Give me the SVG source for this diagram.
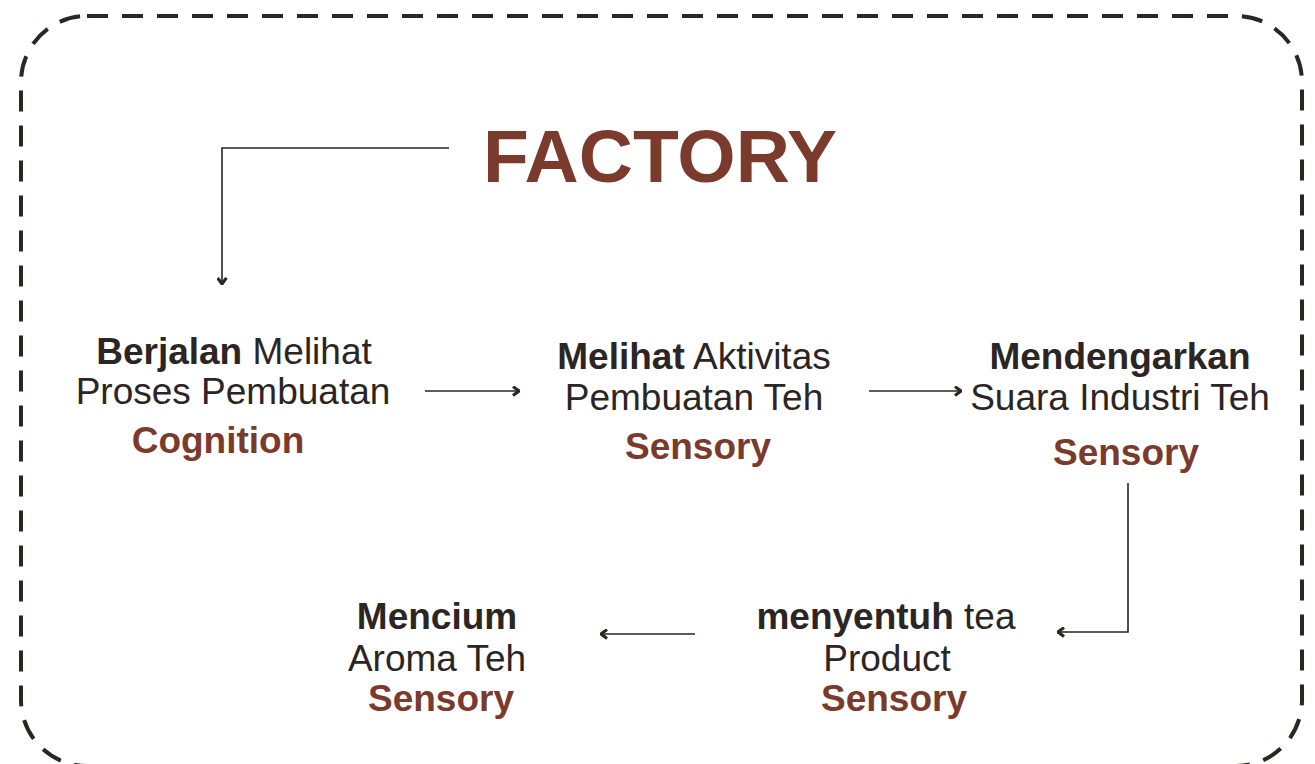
<svg xmlns="http://www.w3.org/2000/svg" width="1315" height="764" viewBox="0 0 1315 764">
<style>
.t{font-family:"Liberation Sans",Arial,sans-serif;font-size:37px;fill:#2b2523;text-anchor:middle}
.b{font-weight:bold}
.br{fill:#7a3a2c;font-weight:bold}
.ln{fill:none;stroke:#2b2523;stroke-width:1.6}
</style>
<defs>
<marker id="ah" viewBox="0 0 10 10" refX="9" refY="5" markerWidth="11" markerHeight="11" markerUnits="userSpaceOnUse" orient="auto">
<path d="M3.5,1 L9,5 L3.5,9" fill="none" stroke="#2b2523" stroke-width="2.8"/>
</marker>
</defs>
<rect x="21" y="16" width="1281" height="750" rx="66" ry="66" fill="none" stroke="#2b2523" stroke-width="4" stroke-dasharray="21 14"/>
<g id="title">
<text x="660" y="182" style="font-family:'Liberation Sans',Arial,sans-serif;font-size:75px;font-weight:bold;fill:#7a3a2c" text-anchor="middle">FACTORY</text>
</g>
<g id="connectors">
<path class="ln" d="M449,148 H222 V284" marker-end="url(#ah)"/>
<path class="ln" d="M425,391 H519" marker-end="url(#ah)"/>
<path class="ln" d="M869,391 H961" marker-end="url(#ah)"/>
<path class="ln" d="M1128,483 V632 H1058" marker-end="url(#ah)"/>
<path class="ln" d="M695,634 H601" marker-end="url(#ah)"/>
</g>
<g id="node-berjalan">
<text class="t" x="234" y="364"><tspan class="b">Berjalan</tspan> Melihat</text>
<text class="t" x="233" y="404">Proses Pembuatan</text>
<text class="t br" x="218" y="453">Cognition</text>
</g>
<g id="node-melihat">
<text class="t" x="694" y="369"><tspan class="b">Melihat</tspan> Aktivitas</text>
<text class="t" x="694" y="410">Pembuatan Teh</text>
<text class="t br" x="698" y="459">Sensory</text>
</g>
<g id="node-mendengarkan">
<text class="t b" x="1120" y="369">Mendengarkan</text>
<text class="t" x="1120" y="410">Suara Industri Teh</text>
<text class="t br" x="1126" y="465">Sensory</text>
</g>
<g id="node-menyentuh">
<text class="t" x="886" y="629"><tspan class="b">menyentuh</tspan> tea</text>
<text class="t" x="887" y="671">Product</text>
<text class="t br" x="894" y="711">Sensory</text>
</g>
<g id="node-mencium">
<text class="t b" x="437" y="629">Mencium</text>
<text class="t" x="437" y="671">Aroma Teh</text>
<text class="t br" x="441" y="711">Sensory</text>
</g>
</svg>
